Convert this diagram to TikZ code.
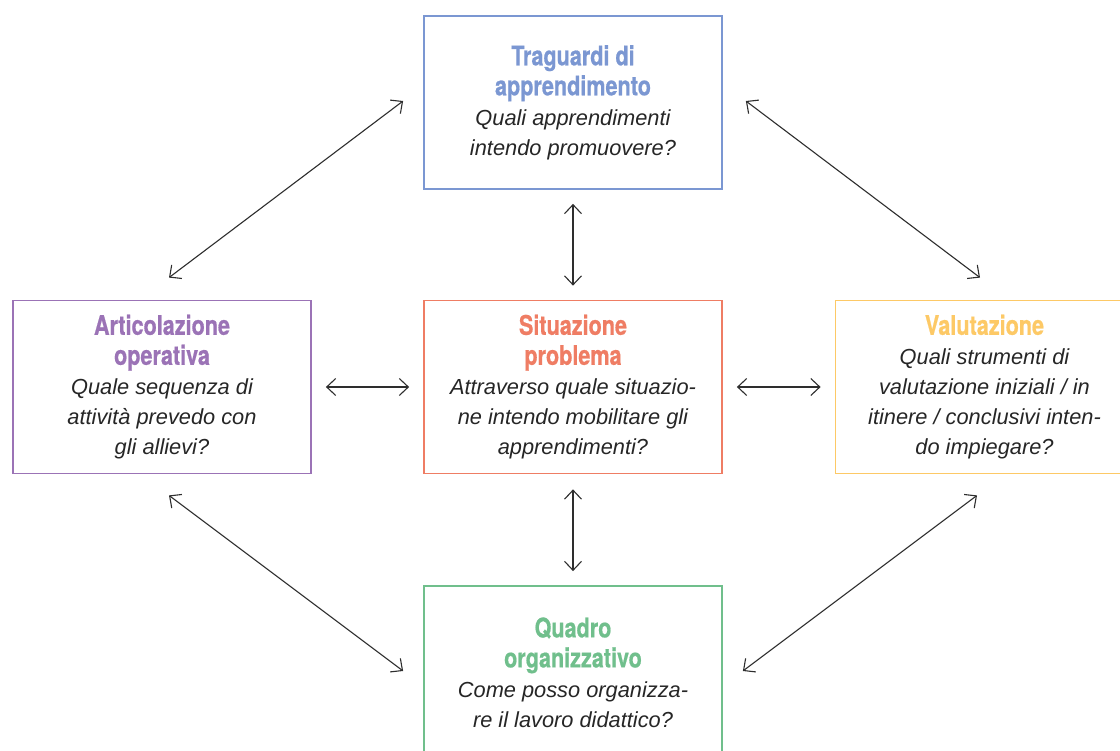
\documentclass[tikz,border=0pt]{standalone}
\usepackage{fontspec}
\setmainfont{Liberation Sans}
\newfontfamily\ttlfont[FakeStretch=0.8,BoldFeatures={FakeBold=0.6}]{TeX Gyre Heros}
\usetikzlibrary{arrows.meta}
\definecolor{cblue}{HTML}{7B97D2}
\definecolor{cpurple}{HTML}{9B73B6}
\definecolor{cred}{HTML}{EF7D64}
\definecolor{cyellow}{HTML}{FDC966}
\definecolor{cgreen}{HTML}{70BF8C}
\definecolor{bodytext}{HTML}{262626}
\definecolor{arrowgray}{HTML}{2E2E2E}
\newcommand{\ttl}[2]{{\color{#1}\ttlfont\bfseries\upshape\fontsize{27}{30}\selectfont #2}}
\tikzset{
  box/.style={draw=#1, line width=1.8pt, minimum width=298pt, minimum height=173pt,
    align=center, inner sep=0pt, font=\fontsize{21.8}{30}\selectfont\itshape, text=bodytext},
  link/.style={line width=1.1pt, draw=arrowgray,
    {Straight Barb[length=9pt,width=17pt]}-{Straight Barb[length=9pt,width=17pt]}}
}
\begin{document}
\begin{tikzpicture}[x=1pt,y=-1pt]
\clip (0,0) rectangle (1120,751);
\fill[white] (0,0) rectangle (1120,751);
\node[box=cblue] (T) at (573,102.5) {\ttl{cblue}{Traguardi di}\\\ttl{cblue}{apprendimento}\\Quali apprendimenti\\intendo promuovere?};
\node[box=cpurple] (L) at (162,387) {\ttl{cpurple}{Articolazione}\\\ttl{cpurple}{operativa}\\Quale sequenza di\\attività prevedo con\\gli allievi?};
\node[box=cred] (C) at (573,387) {\ttl{cred}{Situazione}\\\ttl{cred}{problema}\\Attraverso quale situazio-\\ne intendo mobilitare gli\\apprendimenti?};
\node[box=cyellow] (R) at (984.5,387) {\ttl{cyellow}{Valutazione}\\Quali strumenti di\\valutazione iniziali / in\\itinere / conclusivi inten-\\do impiegare?};
\node[box=cgreen] (B) at (573,672.5) {\ttl{cgreen}{Quadro}\\\ttl{cgreen}{organizzativo}\\Come posso organizza-\\re il lavoro didattico?};
\draw[link] ([shift={(0,14)}]T.south) -- ([shift={(0,-14)}]C.north);
\draw[link] ([shift={(0,15)}]C.south) -- ([shift={(0,-14)}]B.north);
\draw[link] ([shift={(14,0)}]L.east) -- ([shift={(-14,0)}]C.west);
\draw[link] ([shift={(14,0)}]C.east) -- ([shift={(-14,0)}]R.west);
\draw[link] ([shift={(-20,-1.5)}]T.west) -- ([shift={(7,-22)}]L.north);
\draw[link] ([shift={(23,-1.5)}]T.east) -- ([shift={(-4.5,-22)}]R.north);
\draw[link] ([shift={(7,21)}]L.south) -- ([shift={(-20,-1.5)}]B.west);
\draw[link] ([shift={(-7.5,21)}]R.south) -- ([shift={(20,-1.5)}]B.east);
\end{tikzpicture}
\end{document}
